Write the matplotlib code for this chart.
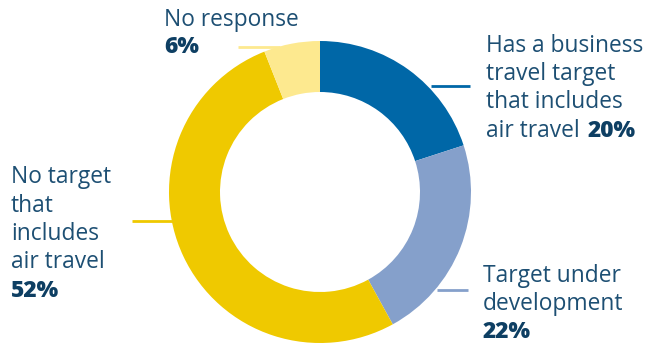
import matplotlib.pyplot as plt

# data
labels = ["Has a business travel target that includes air travel",
          "Target under development",
          "No target that includes air travel",
          "No response"]
values = [20, 22, 52, 6]
colors = ["#0067a7", "#85a0cb", "#efc900", "#fde98f"]

W, H = 648, 344
TXT = "#1d4f73"
PCT = "#0e3f63"
FONT = "Open Sans"

fig = plt.figure(figsize=(W / 100, H / 100), dpi=100)
ax = fig.add_axes([0, 0, 1, 1])

def py(y):
    # convert pixel row (top-down) to data y
    return H - y

# donut
ax.pie(values, colors=colors, startangle=90, counterclock=False,
       center=(320, py(192)), radius=151, frame=True,
       wedgeprops=dict(width=51, linewidth=0))
ax.set_xlim(0, W)
ax.set_ylim(0, H)
ax.set_aspect("equal")
ax.axis("off")

# leader lines
lines = [((431, 470), 86, colors[0]),
         ((437, 468), 290, colors[1]),
         ((132, 193), 221, colors[2]),
         ((238, 280), 47, colors[3])]
for (x0, x1), y, c in lines:
    ax.plot([x0, x1], [py(y), py(y)], color=c, lw=2, solid_capstyle="butt", zorder=3)

fs = 16.4
renderer = fig.canvas.get_renderer()

def block(x, baselines, rows, pct, pct_inline):
    for i, row in enumerate(rows):
        t = ax.text(x, py(baselines[i]), row, fontsize=fs, color=TXT,
                    family=FONT, va="baseline", ha="left")
    if pct_inline:
        bb = t.get_window_extent(renderer=renderer)
        ax.text(bb.x1 + 8, py(baselines[-1]), pct, fontsize=fs, color=PCT,
                family=FONT, weight="heavy", va="baseline", ha="left")
    else:
        ax.text(x, py(baselines[len(rows)]), pct, fontsize=fs, color=PCT,
                family=FONT, weight="heavy", va="baseline", ha="left")

block(486, [52, 80, 108, 137], ["Has a business", "travel target",
                                "that includes", "air travel"],
      "%d%%" % values[0], True)
block(483, [282, 310, 338], ["Target under", "development"],
      "%d%%" % values[1], False)
block(11, [183, 212, 240, 268, 297], ["No target", "that", "includes",
                                      "air travel"],
      "%d%%" % values[2], False)
block(164, [26, 53], ["No response"], "%d%%" % values[3], False)

fig.savefig("out.png", dpi=100)
